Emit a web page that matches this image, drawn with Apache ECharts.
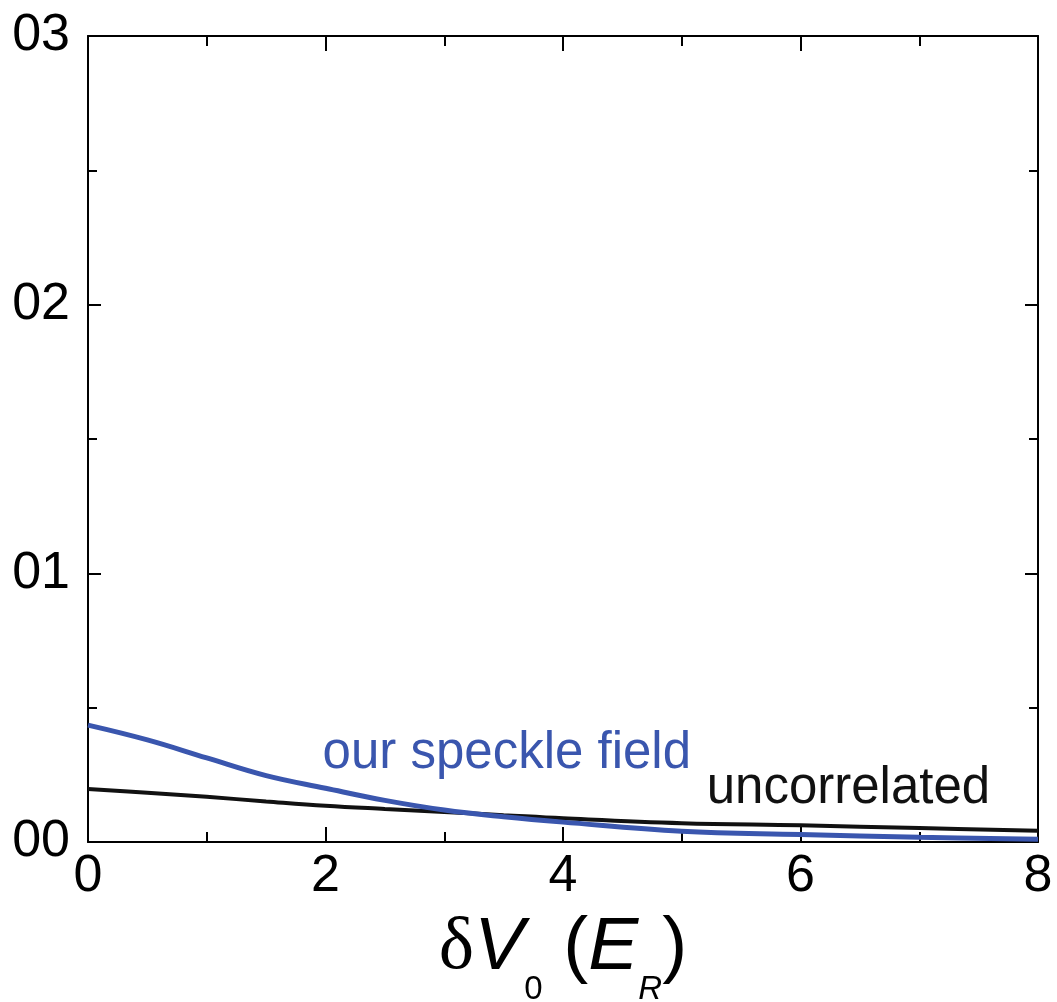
<!DOCTYPE html>
<html>
<head>
<meta charset="utf-8">
<script src="https://cdn.jsdelivr.net/npm/echarts@6/dist/echarts.min.js"></script>
<style>
  html, body { margin: 0; padding: 0; background: #fff; }
  #chart { width: 1057px; height: 1002px; }
</style>
</head>
<body>
<div id="chart"></div>
<script>
// values
const xValues = [0, 0.5, 1, 1.5, 2, 2.5, 3, 3.5, 4, 5, 6, 7, 8];
const speckle = [0.00435, 0.0038, 0.00313, 0.00247, 0.0020, 0.00155, 0.00119, 0.00094, 0.00074, 0.00040, 0.00028, 0.00018, 0.0001];
const uncorrelated = [0.00197, 0.00183, 0.00168, 0.00151, 0.00135, 0.00123, 0.00112, 0.00100, 0.00088, 0.00070, 0.00062, 0.00052, 0.00042];
const yTickLabels = {0: '00', 0.01: '01', 0.02: '02', 0.03: '03'};
const speckleNote = {text: 'our speckle field', x: 1.975, y: 0.00328};
const uncorrNote = {text: 'uncorrelated', x: 5.21, y: 0.00197};

const blue = '#3a56ae';
const font = 'Liberation Sans, Arial, sans-serif';

function pairs(ys) {
  return xValues.map((x, i) => [x, ys[i]]);
}

function note(n, color) {
  return {
    symbol: 'circle',
    symbolSize: 0,
    silent: true,
    data: [{
      coord: [n.x, n.y],
      label: {
        show: true, formatter: n.text, position: [0, 0],
        align: 'left', verticalAlign: 'middle',
        color: color, fontSize: 51, fontFamily: font
      }
    }]
  };
}

const axisLine = {show: true, onZero: false, lineStyle: {color: '#000', width: 2}};

const chart = echarts.init(document.getElementById('chart'));
chart.setOption({
  animation: false,
  backgroundColor: '#fff',
  grid: {left: 88, right: 19, top: 36, bottom: 160, containLabel: false, outerBoundsMode: 'none'},
  xAxis: [{
    type: 'value', min: 0, max: 8, interval: 2,
    axisLine: axisLine,
    axisTick: {inside: true, length: 15, lineStyle: {color: '#000', width: 2}},
    minorTick: {show: true, splitNumber: 2, length: 10, lineStyle: {color: '#000', width: 2}},
    splitLine: {show: false},
    axisLabel: {margin: 9, fontSize: 52, color: '#000', fontFamily: font},
    name: '{d|δ}{i|V}{s|0}{n| (}{i|E}{si|R}{n|)}',
    nameLocation: 'middle',
    nameMoveOverlap: false,
    nameGap: 66,
    nameTextStyle: {
      rich: {
        d: {fontSize: 75, lineHeight: 80, fontFamily: 'Liberation Serif, serif', color: '#000'},
        i: {fontSize: 75, lineHeight: 80, fontStyle: 'italic', fontFamily: font, color: '#000'},
        n: {fontSize: 75, lineHeight: 80, fontFamily: font, color: '#000'},
        s: {fontSize: 33, lineHeight: 33, padding: [84, 0, 0, 0], fontFamily: font, color: '#000'},
        si: {fontSize: 33, lineHeight: 33, padding: [84, 0, 0, 0], fontStyle: 'italic', fontFamily: font, color: '#000'}
      }
    }
  }, {
    type: 'value', min: 0, max: 8, interval: 2, position: 'top',
    axisLine: axisLine,
    axisTick: {inside: true, length: 15, lineStyle: {color: '#000', width: 2}},
    minorTick: {show: true, splitNumber: 2, length: 10, lineStyle: {color: '#000', width: 2}},
    splitLine: {show: false},
    axisLabel: {show: false}
  }],
  yAxis: [{
    type: 'value', min: 0, max: 0.03, interval: 0.01,
    axisLine: axisLine,
    axisTick: {inside: true, length: 13, lineStyle: {color: '#000', width: 2}},
    minorTick: {show: true, splitNumber: 2, length: 9, lineStyle: {color: '#000', width: 2}},
    splitLine: {show: false},
    axisLabel: {
      margin: 18, fontSize: 52, color: '#000', fontFamily: font,
      padding: [0, 0, 10, 0],
      formatter: v => yTickLabels[Math.round(v * 100) / 100]
    }
  }, {
    type: 'value', min: 0, max: 0.03, interval: 0.01, position: 'right',
    axisLine: axisLine,
    axisTick: {inside: true, length: 13, lineStyle: {color: '#000', width: 2}},
    minorTick: {show: true, splitNumber: 2, length: 9, lineStyle: {color: '#000', width: 2}},
    splitLine: {show: false},
    axisLabel: {show: false}
  }],
  series: [{
    name: 'uncorrelated',
    type: 'line',
    data: pairs(uncorrelated),
    smooth: 0.4,
    showSymbol: false,
    lineStyle: {color: '#111', width: 4},
    markPoint: note(uncorrNote, '#111')
  }, {
    name: 'our speckle field',
    type: 'line',
    data: pairs(speckle),
    smooth: 0.4,
    showSymbol: false,
    lineStyle: {color: blue, width: 5},
    markPoint: note(speckleNote, blue)
  }]
});

window.addEventListener('resize', () => chart.resize());
</script>
</body>
</html>
